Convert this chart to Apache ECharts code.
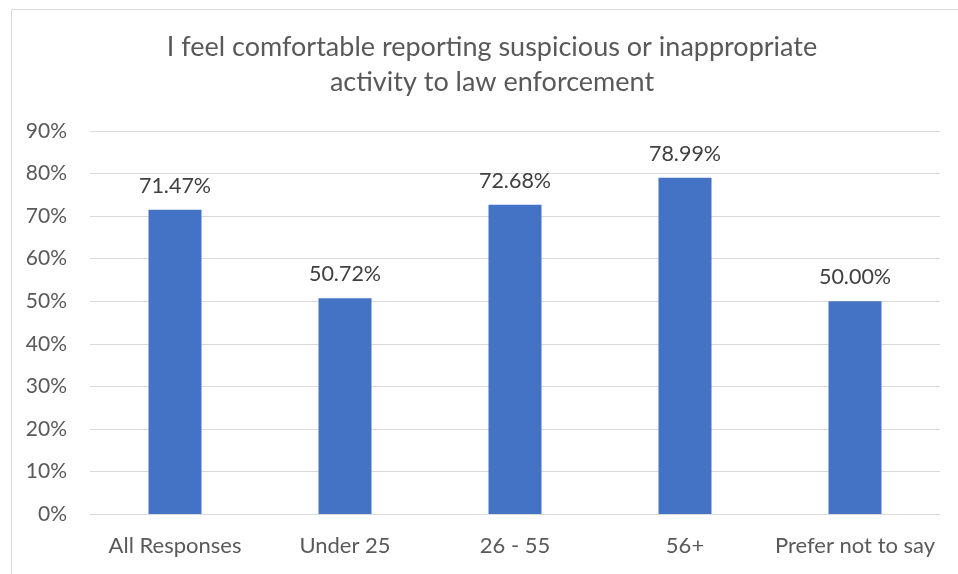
<!DOCTYPE html>
<html><head><meta charset="utf-8">
<script src="https://cdn.jsdelivr.net/npm/echarts@6/dist/echarts.min.js"></script>
<style>html,body{margin:0;padding:0;background:#fff}#c{width:958px;height:574px}</style>
</head><body><div id="c"></div>
<script>
const titleText = "I feel comfortable reporting suspicious or inappropriate\nactivity to law enforcement";
const categories = ["All Responses", "Under 25", "26 - 55", "56+", "Prefer not to say"];
const values = [71.47, 50.72, 72.68, 78.99, 50.00];
const yTicks = [0, 10, 20, 30, 40, 50, 60, 70, 80, 90];

const chart = echarts.init(document.getElementById('c'), null, {renderer: 'canvas'});
const font = 'Lato, "Liberation Sans", sans-serif';
chart.setOption({
  animation: false,
  backgroundColor: '#fff',
  graphic: [{
    type: 'rect', left: 9, top: 7, z: -1,
    shape: {width: 980, height: 600},
    style: {fill: 'none', stroke: '#d9d9d9', lineWidth: 1}
  }],
  title: {
    text: titleText, left: 487, textAlign: 'center', top: 25,
    textStyle: {fontFamily: font, fontSize: 27, fontWeight: 'normal', color: '#595959', lineHeight: 35}
  },
  grid: {left: 90, right: 18, top: 131, bottom: 60, containLabel: false},
  xAxis: {
    type: 'category', data: categories,
    axisLine: {lineStyle: {color: '#d9d9d9', width: 1}},
    axisTick: {show: false},
    axisLabel: {fontFamily: font, fontSize: 22, color: '#595959', margin: 21, interval: 0}
  },
  yAxis: {
    type: 'value', min: yTicks[0], max: yTicks[yTicks.length - 1], interval: 10,
    axisLine: {show: false}, axisTick: {show: false},
    splitLine: {lineStyle: {color: '#d9d9d9', width: 1}},
    axisLabel: {fontFamily: font, fontSize: 21, color: '#595959', margin: 23, formatter: v => v + '%'}
  },
  series: [{
    type: 'bar', data: values, barWidth: 53,
    itemStyle: {color: '#4472C4'},
    label: {show: true, position: 'top', distance: 13, fontFamily: font, fontSize: 21.5, color: '#404040',
      formatter: p => p.value.toFixed(2) + '%'}
  }]
});
</script></body></html>
